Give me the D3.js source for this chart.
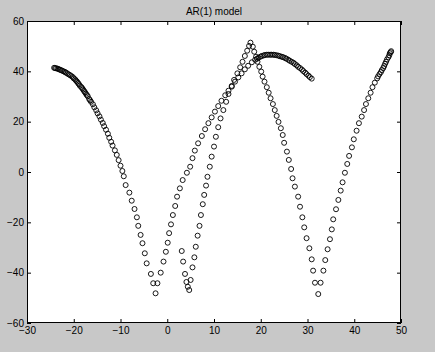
<!DOCTYPE html>
<html>
<head>
<meta charset="utf-8">
<script src="https://cdn.jsdelivr.net/npm/d3@7"></script>
<style>
  html, body { margin: 0; padding: 0; background: #c8c8c8; }
  svg { display: block; }
  text { font-family: "Liberation Sans", Arial, Helvetica, sans-serif; }
</style>
</head>
<body>
<svg id="chart" width="435" height="352"></svg>
<script>
// ---- data ----
const title = "AR(1) model";
const xTicks = [-30, -20, -10, 0, 10, 20, 30, 40, 50];
const yTicks = [-60, -40, -20, 0, 20, 40, 60];

// series 1: long left arc, first V, rising branch and the rounded cap
const s1x = [-24.2,-24.0,-23.8,-23.5,-23.3,-23.0,-22.8,-22.5,-22.2,-21.9,-21.7,-21.4,-21.1,-20.8,-20.5,-20.2,-20.0,-19.7,-19.5,-19.3,-19.1,-18.9,-18.7,-18.4,-18.2,-18.0,-17.8,-17.6,-17.4,-17.2,-17.0,-16.7,-16.5,-16.3,-15.9,-15.6,-15.2,-14.9,-14.5,-14.2,-13.8,-13.5,-13.1,-12.7,-12.4,-12.0,-11.7,-11.2,-10.8,-10.4,-10.0,-9.6,-9.3,-8.9,-8.1,-7.6,-7.0,-6.5,-6.2,-5.7,-5.3,-4.8,-4.4,-3.5,-3.0,-2.5,
  -2.1,-1.4,-0.8,-0.3,0.1,0.4,0.8,1.2,1.7,2.1,2.7,3.3,4.2,4.9,5.4,5.9,6.6,7.4,8.1,8.8,9.5,10.2,10.9,11.6,12.4,13.1,13.8,14.5,15.2,15.9,16.6,17.3,18.1,18.8,19.2,19.5,19.9,20.2,20.6,20.9,21.3,21.6,22.0,22.3,22.7,23.0,23.4,23.8,24.1,24.5,24.8,25.2,25.5,25.9,26.2,26.6,27.0,27.3,27.7,28.0,28.4,28.8,29.1,29.5,29.8,30.2,30.5,30.9];
const s1y = [41.4,41.3,41.2,41.1,40.9,40.7,40.5,40.3,40.0,39.8,39.5,39.2,38.8,38.5,38.1,37.7,37.2,36.8,36.3,35.9,35.4,34.9,34.3,33.8,33.3,32.8,32.2,31.7,31.1,30.6,30.1,29.0,28.5,27.9,26.9,25.7,24.5,23.3,22.1,20.8,19.5,18.2,16.8,15.2,13.6,12.0,10.5,8.6,6.8,4.7,2.5,0.4,-1.7,-5.2,-8.2,-11.4,-14.7,-18.0,-21.4,-25.0,-28.3,-32.3,-36.3,-40.5,-44.2,-48.2,
  -44.2,-40.0,-35.6,-31.7,-28.1,-24.3,-20.8,-17.1,-13.5,-9.8,-6.5,-3.2,-0.3,2.1,5.5,8.5,11.4,14.3,17.0,19.4,21.7,24.0,26.2,28.3,30.5,32.3,34.2,35.9,37.6,39.2,40.8,42.2,43.6,44.6,45.0,45.4,45.8,46.1,46.3,46.5,46.6,46.6,46.6,46.6,46.6,46.5,46.4,46.2,46.0,45.8,45.6,45.3,45.0,44.6,44.2,43.8,43.4,42.9,42.4,41.8,41.3,40.7,40.1,39.5,38.9,38.3,37.7,37.1];

// series 2: second V, sharp peak, third V up to the right end
const s2x = [3.1,3.4,3.8,4.1,4.4,4.7,
  5.0,5.4,5.8,6.1,6.5,6.9,7.2,7.6,7.9,8.3,8.6,9.1,9.5,10.0,10.4,10.9,11.4,12.0,12.6,13.1,13.8,14.3,15.0,15.6,16.1,16.6,17.1,17.5,17.8,
  18.3,18.6,19.0,19.3,19.7,20.1,20.4,20.8,21.3,21.7,22.1,22.6,23.0,23.4,23.8,24.3,24.7,25.0,25.6,26.0,26.5,26.8,27.3,28.0,28.4,28.9,29.3,29.8,30.4,30.9,31.2,31.6,32.3,
  32.8,33.4,33.8,34.3,34.8,35.2,35.5,36.1,36.6,37.1,37.5,38.0,38.5,38.9,39.5,39.9,40.5,41.0,41.6,42.1,42.5,43.0,43.5,43.9,44.4,44.9,45.1,45.4,45.7,45.9,46.2,46.4,46.6,46.8,47.0,47.3,47.5,47.6,47.8,47.9];
const s2y = [-31.4,-35.6,-40.5,-43.7,-45.6,-46.9,
  -42.9,-37.9,-33.9,-29.7,-25.3,-21.4,-17.1,-12.8,-9.1,-5.4,-1.9,2.1,6.1,10.1,14.0,17.8,21.3,24.6,27.9,31.0,33.9,36.6,39.2,41.6,43.8,46.1,48.2,50.1,51.4,
  49.8,47.8,45.8,43.8,41.8,39.9,37.9,35.9,33.7,31.5,29.3,27.0,24.6,22.3,19.9,17.4,14.7,11.6,8.1,4.8,1.2,-2.5,-5.8,-9.8,-13.8,-18.0,-22.0,-26.3,-30.3,-34.7,-39.2,-44.0,-48.5,
  -44.0,-39.2,-35.0,-30.7,-26.7,-22.8,-18.8,-14.8,-11.1,-7.4,-4.1,-0.3,3.2,6.4,9.8,13.0,16.4,19.4,22.0,24.6,27.0,29.3,31.5,33.7,35.5,37.2,38.0,38.9,39.7,40.5,41.3,42.1,43.0,43.8,44.7,45.6,46.4,47.2,47.6,48.0];

// ---- layout ----
const W = 435, H = 352;
const m = { left: 27, right: 34, top: 21, bottom: 29 };
const pw = W - m.left - m.right, ph = H - m.top - m.bottom;

const svg = d3.select("#chart");
svg.append("rect").attr("width", W).attr("height", H).attr("fill", "#c8c8c8");

const x = d3.scaleLinear().domain([-30, 50]).range([m.left, m.left + pw]);
const y = d3.scaleLinear().domain([-60, 60]).range([m.top + ph, m.top]);

svg.append("rect")
  .attr("x", m.left).attr("y", m.top).attr("width", pw).attr("height", ph)
  .attr("fill", "#ffffff");

// points
const pts1 = s1x.map((v, i) => [v, s1y[i]]);
const pts2 = s2x.map((v, i) => [v, s2y[i]]);
const g = svg.append("g");
[pts1, pts2].forEach(p => {
  g.selectAll(null).data(p).enter().append("circle")
    .attr("cx", d => x(d[0])).attr("cy", d => y(d[1]))
    .attr("r", 2.5)
    .attr("fill", "none").attr("stroke", "#000").attr("stroke-width", 0.9);
});

// axes (ticks inside, MATLAB style)
function styleAxis(sel) {
  sel.selectAll(".domain").remove();
  sel.selectAll("line").attr("stroke", "#000");
  sel.selectAll("text").attr("font-size", "10px").attr("fill", "#000");
}
svg.append("g").attr("transform", `translate(0,${m.top + ph})`)
  .call(d3.axisBottom(x).tickValues(xTicks).tickSize(-4).tickSizeOuter(0).tickPadding(4).tickFormat(d3.format("d")))
  .call(styleAxis);
svg.append("g").attr("transform", `translate(0,${m.top})`)
  .call(d3.axisTop(x).tickValues(xTicks).tickSize(-4).tickSizeOuter(0).tickFormat(""))
  .call(styleAxis);
svg.append("g").attr("transform", `translate(${m.left},0)`)
  .call(d3.axisLeft(y).tickValues(yTicks).tickSize(-4).tickSizeOuter(0).tickPadding(3).tickFormat(d3.format("d")))
  .call(styleAxis);
svg.append("g").attr("transform", `translate(${m.left + pw},0)`)
  .call(d3.axisRight(y).tickValues(yTicks).tickSize(-4).tickSizeOuter(0).tickFormat(""))
  .call(styleAxis);

// box
svg.append("rect")
  .attr("x", m.left + 0.5).attr("y", m.top + 0.5).attr("width", pw - 1).attr("height", ph - 1)
  .attr("fill", "none").attr("stroke", "#000").attr("stroke-width", 1);

// title
svg.append("text")
  .attr("x", m.left + pw / 2).attr("y", m.top - 6)
  .attr("text-anchor", "middle").attr("font-size", "10px").attr("fill", "#000")
  .text(title);
</script>
</body>
</html>
